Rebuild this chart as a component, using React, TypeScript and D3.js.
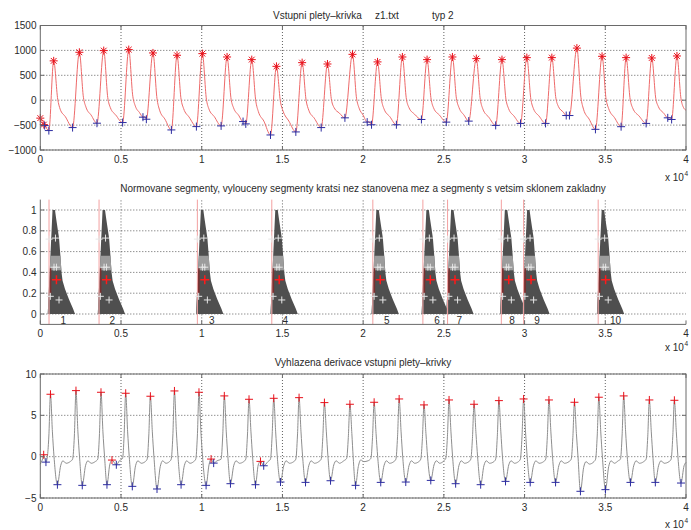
import React from 'react';
import * as d3 from 'd3';

// ---------- shared x axis ----------
const xTicks = [0, 0.5, 1, 1.5, 2, 2.5, 3, 3.5, 4];
const xTickLabels = ['0', '0.5', '1', '1.5', '2', '2.5', '3', '3.5', '4'];

// ---------- panel 1: input pleth curve ----------
const ppgTitle = ['Vstupni plety\u2013krivka', 'z1.txt', 'typ 2'];
const topYTicks = [-1000, -500, 0, 500, 1000, 1500];
const topYLabels = ['\u22121000', '\u2212500', '0', '500', '1000', '1500'];
const ppgLine: [number, number][] = [
  [0, -360], [0.022, -490], [0.027, -509], [0.053, -610], [0.083, 790],
  [0.108, 20], [0.123, -180], [0.155, -330], [0.2, -550], [0.242, 962],
  [0.267, 60], [0.283, -140], [0.315, -300], [0.351, -462], [0.393, 996],
  [0.418, 50], [0.434, -150], [0.468, -300], [0.51, -449], [0.548, 1016],
  [0.573, 80], [0.589, -120], [0.615, -250], [0.636, -341], [0.646, -330], [0.657, -382], [0.698, 949],
  [0.723, 30], [0.739, -200], [0.772, -380], [0.812, -597], [0.847, 902],
  [0.872, 20], [0.888, -170], [0.922, -340], [0.967, -530], [1.004, 935],
  [1.029, 20], [1.045, -180], [1.078, -330], [1.12, -516], [1.157, 868],
  [1.182, 20], [1.198, -160], [1.228, -300], [1.256, -429], [1.265, -420], [1.273, -476], [1.31, 815],
  [1.335, -20], [1.351, -230], [1.385, -420], [1.426, -698], [1.463, 680],
  [1.488, -40], [1.504, -220], [1.54, -420], [1.583, -637], [1.622, 754],
  [1.647, -10], [1.663, -200], [1.697, -360], [1.74, -550], [1.779, 727],
  [1.804, 0], [1.82, -150], [1.853, -260], [1.887, -354], [1.934, 921],
  [1.959, 40], [1.975, -160], [2.0, -300], [2.025, -440], [2.035, -430], [2.052, -493], [2.089, 769],
  [2.114, 0], [2.13, -180], [2.165, -330], [2.206, -493], [2.243, 868],
  [2.268, 20], [2.284, -150], [2.318, -280], [2.361, -387], [2.396, 815],
  [2.421, 20], [2.437, -160], [2.473, -300], [2.515, -440], [2.553, 868],
  [2.578, 30], [2.594, -150], [2.625, -300], [2.654, -420], [2.701, 835],
  [2.726, 10], [2.742, -180], [2.778, -340], [2.821, -506], [2.86, 815],
  [2.885, 10], [2.901, -170], [2.935, -320], [2.975, -466], [3.014, 855],
  [3.039, 20], [3.055, -170], [3.09, -320], [3.13, -466], [3.169, 855],
  [3.194, 40], [3.21, -130], [3.24, -240], [3.258, -308], [3.268, -300], [3.278, -308], [3.324, 1046],
  [3.349, 60], [3.365, -180], [3.4, -380], [3.439, -585], [3.48, 881],
  [3.505, 20], [3.521, -170], [3.557, -350], [3.598, -532], [3.629, 855],
  [3.654, 20], [3.67, -160], [3.71, -320], [3.753, -466], [3.788, 848],
  [3.813, 30], [3.829, -130], [3.862, -260], [3.887, -354], [3.9, -350], [3.911, -387], [3.944, 888],
  [3.969, 30], [3.985, -150], [4.0, -200],
];
const ppgPeaks: [number, number][] = [
  [0, -360], [0.022, -490], [0.083, 790], [0.242, 962], [0.393, 996], [0.548, 1016], [0.698, 949],
  [0.847, 902], [1.004, 935], [1.157, 868], [1.31, 815], [1.463, 680], [1.622, 754], [1.779, 727],
  [1.934, 921], [2.089, 769], [2.243, 868], [2.396, 815], [2.553, 868], [2.701, 835], [2.86, 815],
  [3.014, 855], [3.169, 855], [3.324, 1046], [3.48, 881], [3.629, 855], [3.788, 848], [3.944, 888],
];
const ppgTroughs: [number, number][] = [
  [0.027, -509], [0.053, -610], [0.2, -550], [0.351, -462], [0.51, -449], [0.636, -341], [0.657, -382],
  [0.812, -597], [0.967, -530], [1.12, -516], [1.256, -429], [1.273, -476], [1.426, -698], [1.583, -637],
  [1.74, -550], [1.887, -354], [2.025, -440], [2.052, -493], [2.206, -493], [2.361, -387], [2.515, -440],
  [2.654, -420], [2.821, -506], [2.975, -466], [3.13, -466], [3.258, -308], [3.278, -308], [3.439, -585],
  [3.598, -532], [3.753, -466], [3.887, -354], [3.911, -387],
];

// ---------- panel 2: normalised segments ----------
const segTitle = 'Normovane segmenty, vylouceny segmenty kratsi nez stanovena mez a segmenty s vetsim sklonem zakladny';
const midYTicks = [0, 0.2, 0.4, 0.6, 0.8, 1];
const midYLabels = ['0', '0.2', '0.4', '0.6', '0.8', '1'];
const segStart = [0.054, 0.364, 0.973, 1.434, 2.06, 2.37, 2.523, 2.856, 2.994, 3.456];
const segLabels = ['1', '2', '3', '4', '5', '6', '7', '8', '9', '10'];
const segLabelX = [0.143, 0.446, 1.063, 1.517, 2.147, 2.457, 2.596, 2.922, 3.077, 3.563];
// silhouette of the overlaid normalised segment (offset from segment start, normalised amplitude)
const segShapeDx = [-0.008, 0.0217, 0.037, 0.043, 0.062, 0.071, 0.0775, 0.084, 0.099, 0.124, 0.149, 0.161];
const segShapeY = [0, 1, 1, 0.93, 0.73, 0.55, 0.4, 0.32, 0.24, 0.14, 0.05, 0];
const segWhiteDx = [0.04, 0.031, 0.046, 0.008, 0.062, 0.0];
const segWhiteY = [0.73, 0.45, 0.45, 0.17, 0.135, 0.72];
const segRedDx = [0.046];
const segRedY = [0.33];

// ---------- panel 3: smoothed derivative ----------
const derTitle = 'Vyhlazena derivace vstupni plety\u2013krivky';
const botYTicks = [-5, 0, 5, 10];
const botYLabels = ['\u22125', '0', '5', '10'];
const derLine: [number, number][] = [
  [0, -0.9], [0.012, -0.4], [0.021, 0.2], [0.035, -0.66], [0.045, 0.2], [0.053, 2.5], [0.063, 7.55], [0.075, 3], [0.085, 0], [0.106, -3.39],
  [0.126, -1.1], [0.14, -0.5], [0.16, -0.8], [0.185, -0.6], [0.2, -0.3],
  [0.211, 2.5], [0.221, 7.99], [0.233, 3], [0.243, 0], [0.26, -3.47], [0.28, -1.1], [0.295, -0.5], [0.315, -0.8], [0.34, -0.6], [0.356, -0.3],
  [0.366, 2.5], [0.376, 7.79], [0.388, 3], [0.398, 0], [0.413, -3.39], [0.43, -1.0], [0.444, -0.41], [0.471, -0.98], [0.49, -0.5], [0.51, -0.2],
  [0.519, 2.5], [0.529, 7.67], [0.541, 3], [0.551, 0], [0.57, -3.59], [0.59, -1.1], [0.605, -0.5], [0.625, -0.8], [0.65, -0.6], [0.662, -0.3],
  [0.672, 2.5], [0.682, 7.31], [0.694, 3], [0.704, 0], [0.723, -3.91], [0.743, -1.2], [0.758, -0.5], [0.778, -0.8], [0.8, -0.6], [0.811, -0.3],
  [0.821, 2.5], [0.831, 7.95], [0.843, 3], [0.853, 0], [0.872, -3.39], [0.892, -1.1], [0.907, -0.5], [0.927, -0.8], [0.95, -0.6], [0.963, -0.3],
  [0.973, 2.5], [0.983, 7.79], [0.995, 3], [1.005, 0], [1.027, -3.47], [1.045, -1.0], [1.058, -0.29], [1.074, -0.78], [1.095, -0.5], [1.12, -0.3],
  [1.13, 2.5], [1.14, 7.35], [1.152, 3], [1.162, 0], [1.178, -3.27], [1.198, -1.1], [1.213, -0.5], [1.233, -0.8], [1.26, -0.6], [1.273, -0.3],
  [1.283, 2.5], [1.293, 6.94], [1.305, 3], [1.315, 0], [1.333, -3.39], [1.35, -1.0], [1.364, -0.57], [1.384, -1.1], [1.41, -0.6], [1.426, -0.3],
  [1.436, 2.5], [1.446, 7.06], [1.458, 3], [1.468, 0], [1.488, -3.07], [1.508, -1.1], [1.523, -0.5], [1.543, -0.8], [1.57, -0.6], [1.583, -0.3],
  [1.593, 2.5], [1.603, 7.14], [1.615, 3], [1.625, 0], [1.643, -3.11], [1.663, -1.1], [1.678, -0.5], [1.698, -0.8], [1.725, -0.6], [1.74, -0.3],
  [1.75, 2.3], [1.76, 6.54], [1.772, 3], [1.782, 0], [1.798, -2.91], [1.818, -1.0], [1.833, -0.5], [1.853, -0.8], [1.88, -0.5], [1.898, -0.2],
  [1.908, 2.3], [1.918, 6.34], [1.93, 2.8], [1.938, 0], [1.953, -3.47], [1.97, -1.2], [1.985, -0.4], [2.005, -0.6], [2.03, -0.5], [2.048, -0.2],
  [2.058, 2.3], [2.068, 6.58], [2.08, 2.8], [2.09, 0], [2.109, -3.11], [2.129, -1.1], [2.144, -0.5], [2.164, -0.8], [2.19, -0.6], [2.203, -0.3],
  [2.213, 2.4], [2.223, 6.98], [2.235, 3], [2.245, 0], [2.264, -3.07], [2.284, -1.1], [2.299, -0.5], [2.319, -0.8], [2.345, -0.6], [2.357, -0.3],
  [2.367, 2.2], [2.377, 6.26], [2.389, 2.8], [2.399, 0], [2.419, -2.87], [2.439, -1.0], [2.454, -0.5], [2.474, -0.8], [2.5, -0.5], [2.512, -0.2],
  [2.522, 2.4], [2.532, 6.86], [2.544, 3], [2.554, 0], [2.573, -3.27], [2.593, -1.1], [2.608, -0.5], [2.628, -0.8], [2.655, -0.6], [2.667, -0.3],
  [2.677, 2.2], [2.687, 6.34], [2.699, 2.8], [2.709, 0], [2.728, -3.39], [2.748, -1.1], [2.763, -0.5], [2.783, -0.8], [2.81, -0.6], [2.821, -0.3],
  [2.831, 2.4], [2.841, 6.78], [2.853, 3], [2.863, 0], [2.882, -2.99], [2.902, -1.0], [2.917, -0.5], [2.937, -0.8], [2.962, -0.6], [2.974, -0.3],
  [2.984, 2.4], [2.994, 6.98], [3.006, 3], [3.016, 0], [3.035, -3.11], [3.055, -1.1], [3.07, -0.5], [3.09, -0.8], [3.118, -0.6], [3.131, -0.3],
  [3.141, 2.4], [3.151, 6.86], [3.163, 3], [3.173, 0], [3.192, -3.11], [3.212, -1.1], [3.227, -0.5], [3.247, -0.8], [3.275, -0.6], [3.289, -0.3],
  [3.299, 2.3], [3.309, 6.58], [3.321, 2.8], [3.331, 0], [3.346, -4.19], [3.366, -1.3], [3.381, -0.6], [3.401, -0.9], [3.43, -0.6], [3.44, -0.3],
  [3.45, 2.5], [3.46, 7.19], [3.472, 3], [3.482, 0], [3.501, -3.99], [3.521, -1.2], [3.536, -0.5], [3.556, -0.8], [3.58, -0.5], [3.594, -0.3],
  [3.604, 2.5], [3.614, 7.35], [3.626, 3], [3.636, 0], [3.656, -3.11], [3.676, -1.1], [3.691, -0.5], [3.711, -0.8], [3.738, -0.6], [3.753, -0.3],
  [3.763, 2.4], [3.773, 6.86], [3.785, 3], [3.795, 0], [3.81, -3.11], [3.83, -1.1], [3.845, -0.5], [3.865, -0.8], [3.895, -0.6], [3.908, -0.3],
  [3.918, 2.4], [3.928, 6.82], [3.94, 3], [3.95, 0], [3.969, -3.19], [3.988, -1.1], [4.0, -0.7],
];
const derMax: [number, number][] = [
  [0.021, 0.23], [0.063, 7.55], [0.221, 7.99], [0.376, 7.79], [0.444, -0.41], [0.529, 7.67], [0.682, 7.31],
  [0.831, 7.95], [0.983, 7.79], [1.058, -0.29], [1.14, 7.35], [1.293, 6.94], [1.364, -0.57], [1.446, 7.06],
  [1.603, 7.14], [1.76, 6.54], [1.918, 6.34], [2.068, 6.58], [2.223, 6.98], [2.377, 6.26], [2.532, 6.86],
  [2.687, 6.34], [2.841, 6.78], [2.994, 6.98], [3.151, 6.86], [3.309, 6.58], [3.46, 7.19], [3.614, 7.35],
  [3.773, 6.86], [3.928, 6.82],
];
const derMin: [number, number][] = [
  [0.035, -0.66], [0.106, -3.39], [0.26, -3.47], [0.413, -3.39], [0.471, -0.98], [0.57, -3.59], [0.723, -3.91],
  [0.872, -3.39], [1.027, -3.47], [1.074, -0.78], [1.178, -3.27], [1.333, -3.39], [1.384, -1.1], [1.488, -3.07],
  [1.643, -3.11], [1.798, -2.91], [1.953, -3.47], [2.109, -3.11], [2.264, -3.07], [2.419, -2.87], [2.573, -3.27],
  [2.728, -3.39], [2.882, -2.99], [3.035, -3.11], [3.192, -3.11], [3.346, -4.19], [3.501, -3.99], [3.656, -3.11],
  [3.81, -3.11], [3.969, -3.19],
];

// ---------- layout ----------
const W = 691;
const H = 530;
const LEFT = 40.3;
const RIGHT = 686;
const FONT = "'Liberation Sans', Arial, Helvetica, sans-serif";
const TXT = '#2a2a2a';
const GRID = '#3a3a3a';
const AXIS = '#6a6a6a';

const x = d3.scaleLinear().domain([0, 4]).range([LEFT, RIGHT]);
const yTop = d3.scaleLinear().domain([-1000, 1500]).range([150, 25.5]);
const yMid = d3.scaleLinear().domain([-0.1, 1.1]).range([324.4, 199.6]);
const yBot = d3.scaleLinear().domain([-5, 10]).range([498, 374]);

const plus = (r: number) => `M${-r},0H${r}M0,${-r}V${r}`;
const star = (r: number) => {
  const d = r * 0.72;
  return `M${-r},0H${r}M0,${-r}V${r}M${-d},${-d}L${d},${d}M${-d},${d}L${d},${-d}`;
};

function Axes({ y, ticks }: { y: d3.ScaleLinear<number, number>; ticks: number[] }) {
  const [yb, yt] = y.range();
  return (
    <g>
      {ticks.map((t, i) => (
        <line key={'hg' + i} x1={LEFT} x2={RIGHT} y1={y(t)} y2={y(t)} stroke={GRID} strokeWidth={0.8} strokeDasharray="1 2" />
      ))}
      {xTicks.map((t, i) =>
        t > 0 && t < 4 ? (
          <line key={'vg' + i} x1={x(t)} x2={x(t)} y1={yb} y2={yt} stroke={GRID} strokeWidth={0.8} strokeDasharray="1 2" />
        ) : null
      )}
    </g>
  );
}

function AxesFront({ y, ticks, labels, box }: { y: d3.ScaleLinear<number, number>; ticks: number[]; labels: string[]; box: boolean }) {
  const [yb, yt] = y.range();
  const tl = 4;
  return (
    <g fontFamily={FONT} fontSize={10} fill={TXT}>
      {box ? (
        <rect x={LEFT} y={yt} width={RIGHT - LEFT} height={yb - yt} fill="none" stroke={AXIS} strokeWidth={1} />
      ) : (
        <g>
          <line x1={LEFT} x2={RIGHT} y1={yb} y2={yb} stroke={AXIS} strokeWidth={1} />
          <line x1={LEFT} x2={LEFT} y1={yb} y2={yt} stroke={AXIS} strokeWidth={1} />
        </g>
      )}
      {xTicks.map((t, i) => (
        <g key={'xt' + i}>
          <line x1={x(t)} x2={x(t)} y1={yb} y2={yb - tl} stroke={AXIS} />
          {box && <line x1={x(t)} x2={x(t)} y1={yt} y2={yt + tl} stroke={AXIS} />}
          <text x={x(t)} y={yb + 13} textAnchor="middle">{xTickLabels[i]}</text>
        </g>
      ))}
      {ticks.map((t, i) => (
        <g key={'yt' + i}>
          <line x1={LEFT} x2={LEFT + tl} y1={y(t)} y2={y(t)} stroke={AXIS} />
          {box && <line x1={RIGHT} x2={RIGHT - tl} y1={y(t)} y2={y(t)} stroke={AXIS} />}
          <text x={36.5} y={y(t) + 3.6} textAnchor="end">{labels[i]}</text>
        </g>
      ))}
    </g>
  );
}

function Exponent({ yBase }: { yBase: number }) {
  return (
    <g fontFamily={FONT} fill={TXT}>
      <text x={665} y={yBase} fontSize={10}>x 10</text>
      <text x={684.5} y={yBase - 5} fontSize={6.5}>4</text>
    </g>
  );
}

export default function App() {
  const topPath = d3.line<[number, number]>().x(d => x(d[0])).y(d => yTop(d[1])).curve(d3.curveMonotoneX)(ppgLine) || '';
  const botPath = d3.line<[number, number]>().x(d => x(d[0])).y(d => yBot(d[1])).curve(d3.curveMonotoneX)(derLine) || '';
  const shapeLine = d3.line<[number, number]>().x(d => d[0]).y(d => d[1]);

  const segPaths = segStart.map(s =>
    (shapeLine(segShapeDx.map((dx, i) => [x(s + dx), yMid(segShapeY[i])] as [number, number])) || '') + 'Z'
  );

  return (
    <svg width={W} height={H} style={{ position: 'absolute', left: 0, top: 0, background: '#fff' }}>
      <defs>
        {segPaths.map((p, i) => (
          <clipPath id={'segclip' + i} key={i}>
            <path d={p} />
          </clipPath>
        ))}
      </defs>
      <rect width={W} height={H} fill="#fff" />

      {/* ---------- panel 1 ---------- */}
      <g fontFamily={FONT} fontSize={10} fill={TXT}>
        <text x={273} y={18.5}>{ppgTitle[0]}</text>
        <text x={375} y={18.5}>{ppgTitle[1]}</text>
        <text x={432} y={18.5}>{ppgTitle[2]}</text>
      </g>
      <Axes y={yTop} ticks={topYTicks} />
      <path d={topPath} fill="none" stroke="#ee6a6a" strokeWidth={1} />
      {ppgPeaks.map((p, i) => (
        <path key={'pk' + i} d={star(4)} transform={`translate(${x(p[0])},${yTop(p[1])})`} stroke="#e8101a" strokeWidth={1} fill="none" />
      ))}
      {ppgTroughs.map((p, i) => (
        <path key={'tr' + i} d={plus(4)} transform={`translate(${x(p[0])},${yTop(p[1])})`} stroke="#2c2ca0" strokeWidth={1} fill="none" />
      ))}
      <AxesFront y={yTop} ticks={topYTicks} labels={topYLabels} box={true} />
      <Exponent yBase={181} />

      {/* ---------- panel 2 ---------- */}
      <text x={363} y={191.5} textAnchor="middle" fontFamily={FONT} fontSize={10} fill={TXT}>{segTitle}</text>
      <Axes y={yMid} ticks={midYTicks} />
      {segStart.map((s, i) => (
        <g key={'seg' + i}>
          <path d={segPaths[i]} fill="#4f4f4f" />
          <g clipPath={`url(#segclip${i})`}>
            <rect x={x(s - 0.01)} width={x(0.2) - x(0)} y={yMid(0.56)} height={yMid(0.42) - yMid(0.56)} fill="#9c9c9c" />
            <rect x={x(s - 0.01)} width={x(0.014) - x(0)} y={yMid(0.3)} height={yMid(0) - yMid(0.3)} fill="#747474" />
            <rect x={x(s + 0.002)} width={2} y={yMid(0.44)} height={yMid(0.2) - yMid(0.44)} fill="#7a3030" />
          </g>
          <line x1={x(s)} x2={x(s)} y1={yMid(-0.1)} y2={yMid(1.1)} stroke="#f3a0a0" strokeWidth={1} />
          {segWhiteDx.map((dx, j) => (
            <path key={'w' + j} d={plus(3.5)} transform={`translate(${x(s + dx)},${yMid(segWhiteY[j])})`} stroke="#e6e6e6" strokeWidth={1} fill="none" />
          ))}
          {segRedDx.map((dx, j) => (
            <path key={'r' + j} d={plus(4.5)} transform={`translate(${x(s + dx)},${yMid(segRedY[j])})`} stroke="#ff1a1a" strokeWidth={1.5} fill="none" />
          ))}
          <text x={x(segLabelX[i])} y={yMid(-0.058) + 3.6} textAnchor="middle" fontFamily={FONT} fontSize={10} fill={TXT}>{segLabels[i]}</text>
        </g>
      ))}
      <AxesFront y={yMid} ticks={midYTicks} labels={midYLabels} box={false} />
      <Exponent yBase={351} />

      {/* ---------- panel 3 ---------- */}
      <text x={363} y={365.5} textAnchor="middle" fontFamily={FONT} fontSize={10} fill={TXT}>{derTitle}</text>
      <Axes y={yBot} ticks={botYTicks} />
      <path d={botPath} fill="none" stroke="#8e8e8e" strokeWidth={1} />
      {derMax.map((p, i) => (
        <path key={'dm' + i} d={plus(4)} transform={`translate(${x(p[0])},${yBot(p[1])})`} stroke="#e8101a" strokeWidth={1} fill="none" />
      ))}
      {derMin.map((p, i) => (
        <path key={'dn' + i} d={plus(4)} transform={`translate(${x(p[0])},${yBot(p[1])})`} stroke="#2c2ca0" strokeWidth={1} fill="none" />
      ))}
      <AxesFront y={yBot} ticks={botYTicks} labels={botYLabels} box={true} />
      <Exponent yBase={528} />
    </svg>
  );
}
